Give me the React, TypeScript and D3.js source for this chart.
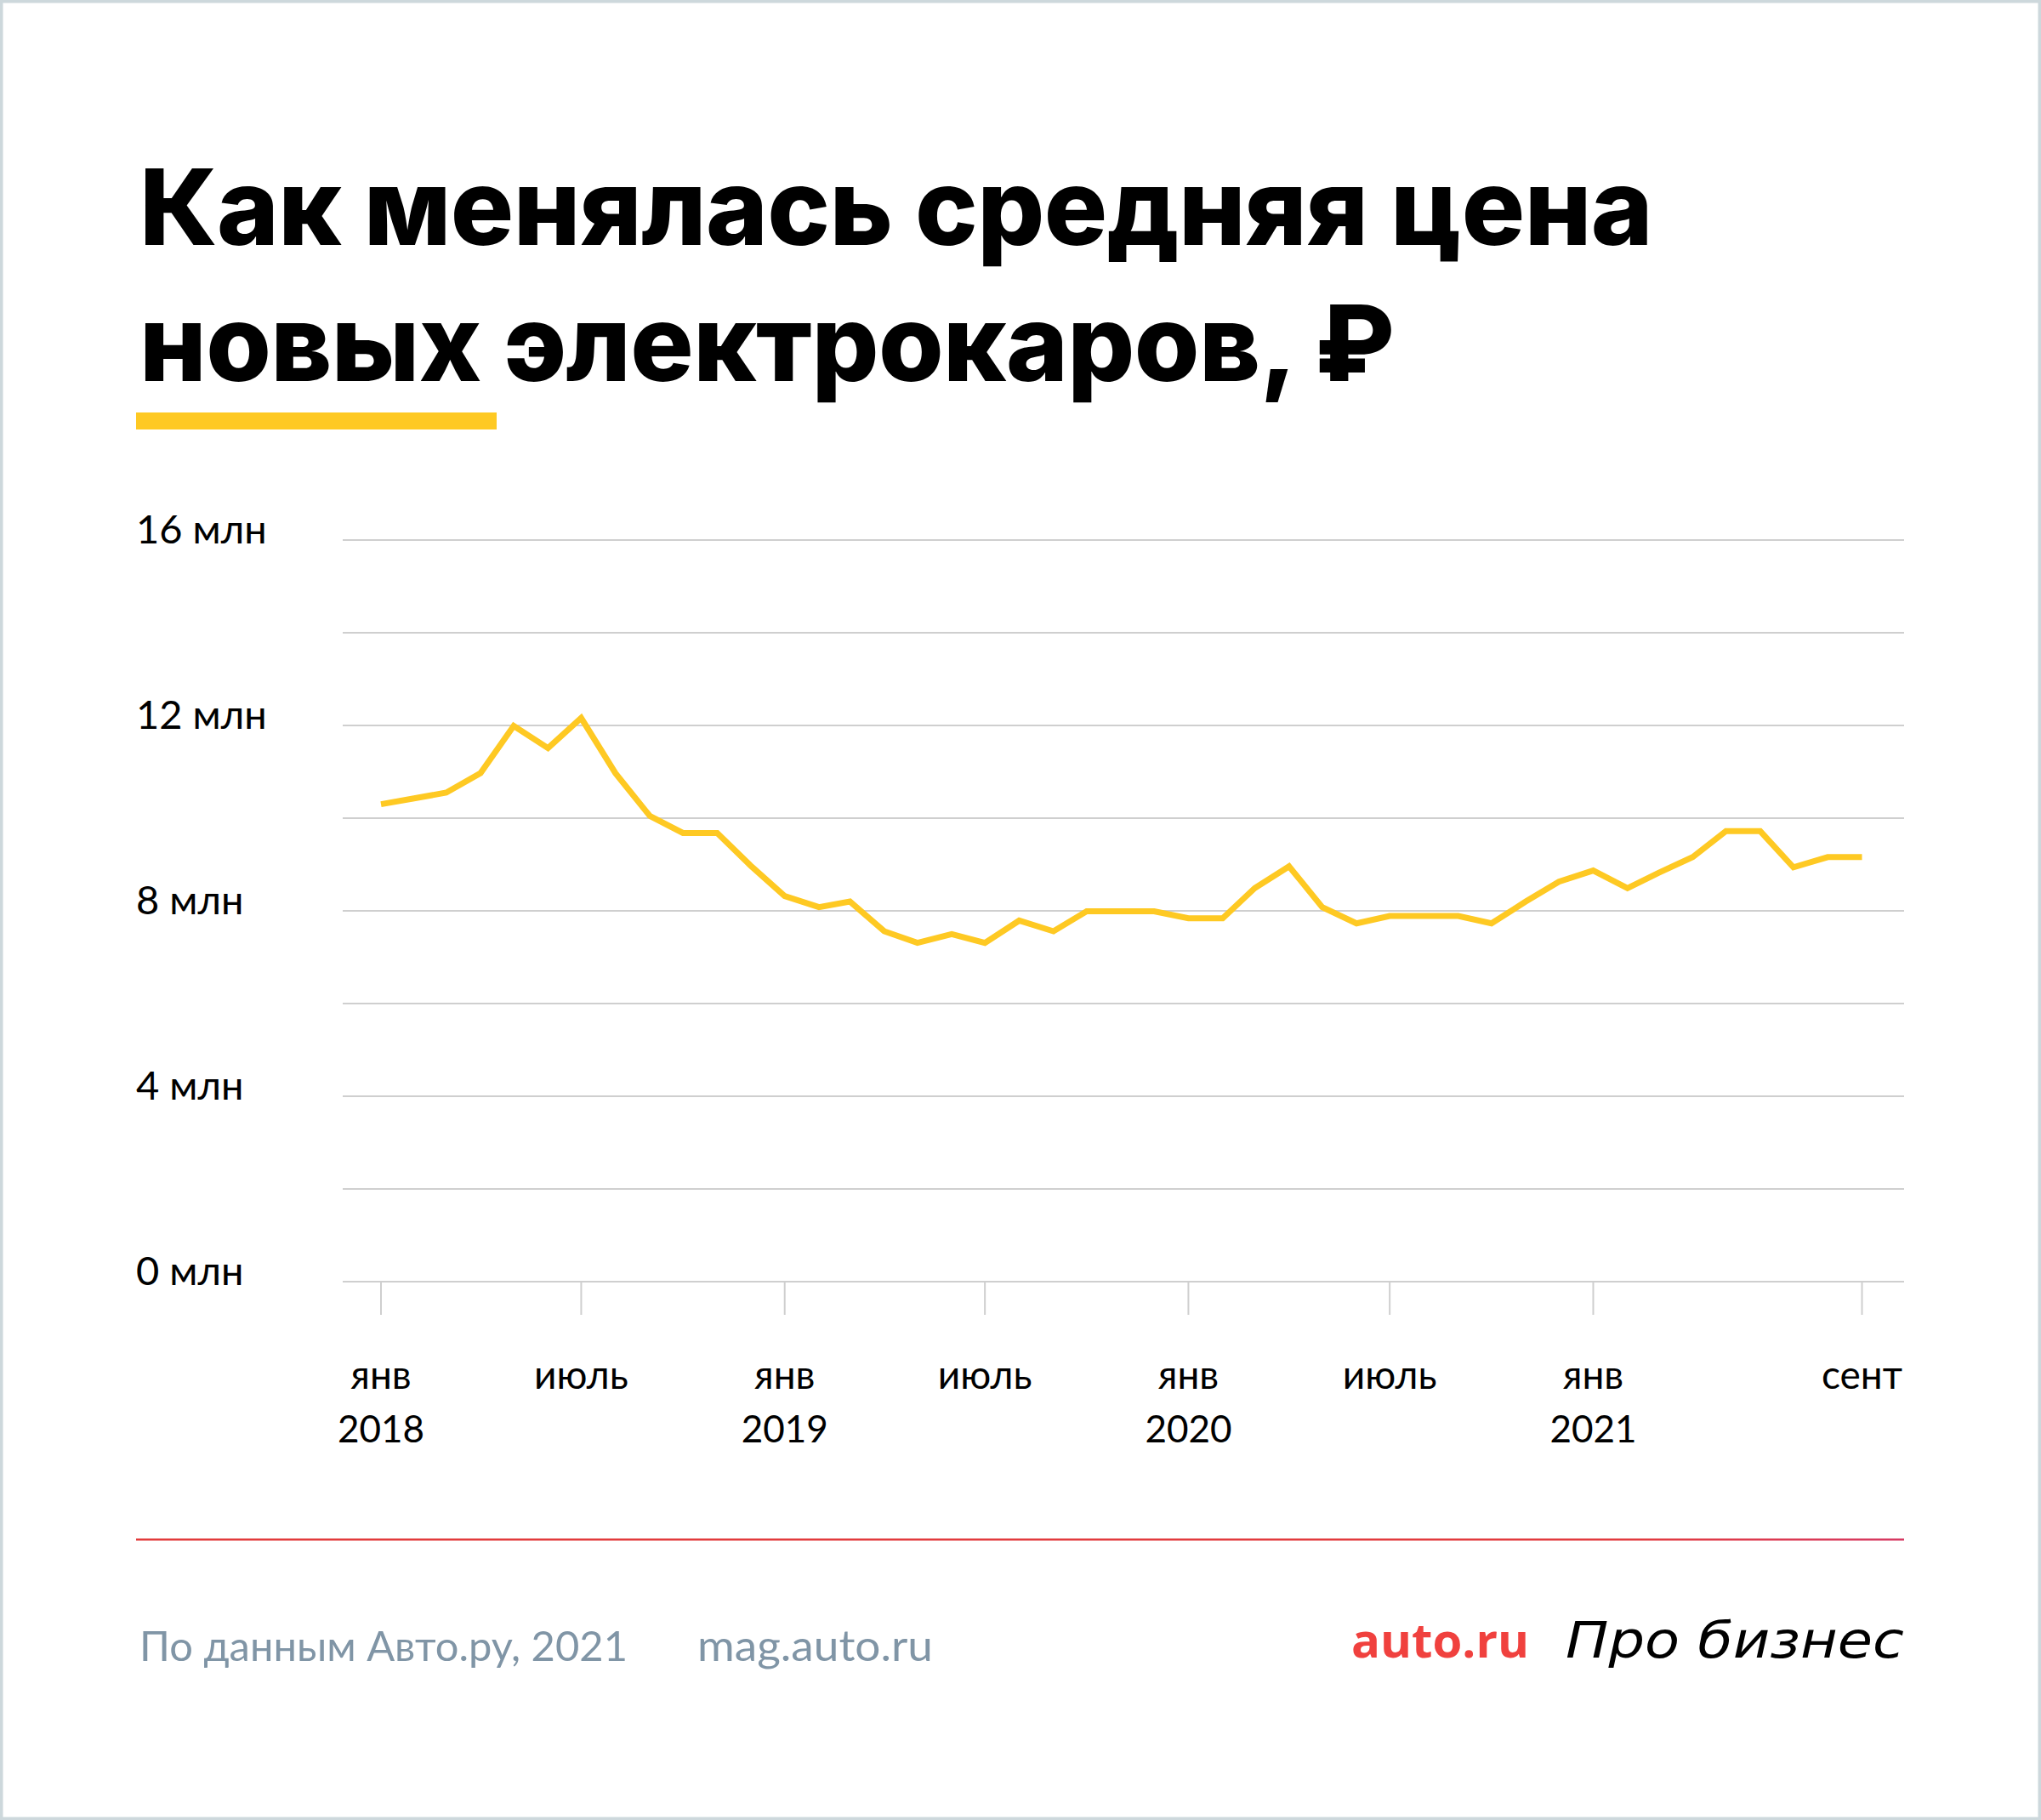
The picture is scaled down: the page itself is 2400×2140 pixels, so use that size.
import { useMemo } from "react"
import * as d3 from "d3"

// Average price of new electric cars, million roubles, monthly Jan 2018 – Sep 2021
const startMonth = new Date(2018, 0, 1)
const endMonth = new Date(2021, 8, 1)
const priceMln = [
  10.3, 10.43, 10.55, 10.97, 11.99, 11.51, 12.16, 10.97, 10.05, 9.68,
  9.68, 8.98, 8.32, 8.08, 8.2, 7.56, 7.31, 7.5, 7.31, 7.79,
  7.56, 7.99, 7.99, 7.99, 7.84, 7.84, 8.49, 8.96, 8.08, 7.73,
  7.89, 7.89, 7.89, 7.73, 8.2, 8.63, 8.87, 8.49, 8.82, 9.16,
  9.72, 9.72, 8.94, 9.16, 9.16,
]

const gridValues = [0, 2, 4, 6, 8, 10, 12, 14, 16]
const labelValues = [0, 4, 8, 12, 16]

const tickDates = [
  new Date(2018, 0, 1),
  new Date(2018, 6, 1),
  new Date(2019, 0, 1),
  new Date(2019, 6, 1),
  new Date(2020, 0, 1),
  new Date(2020, 6, 1),
  new Date(2021, 0, 1),
  new Date(2021, 8, 1),
]
const tickMonths = ["янв", "июль", "янв", "июль", "янв", "июль", "янв", "сент"]
const tickYears = ["2018", "", "2019", "", "2020", "", "2021", ""]

const titleLines = ["Как менялась средняя цена", "новых электрокаров, ₽"]

const W = 2400
const H = 2140
const axisFont = "Lato, 'Noto Sans', sans-serif"

const App = () => {
  const months = useMemo(() => d3.timeMonth.range(startMonth, d3.timeMonth.offset(endMonth, 1)), [])

  const x = d3.scaleTime().domain([startMonth, endMonth]).range([448, 2189.5])
  const y = d3.scaleLinear().domain([0, 16]).range([1507, 635])

  const line = d3
    .line<number>()
    .x((_, i) => x(months[i]))
    .y((d) => y(d))

  const plotLeft = 403
  const plotRight = 2239

  return (
    <svg
      width={W}
      height={H}
      viewBox={`0 0 ${W} ${H}`}
      style={{ position: "absolute", left: 0, top: 0, display: "block", background: "#fff" }}
    >
      <defs>
        <linearGradient id="redRule" x1="0" x2="1" y1="0" y2="0">
          <stop offset="0" stopColor="#e23b3b" />
          <stop offset="0.85" stopColor="#e23b3f" />
          <stop offset="1" stopColor="#d63a63" />
        </linearGradient>
      </defs>

      {/* frame */}
      <rect x={1.5} y={1.5} width={W - 3} height={H - 3} fill="#fff" stroke="#cdd8dc" strokeWidth={4} />

      {/* title */}
      {titleLines.map((t, i) => (
        <text
          key={t}
          x={164}
          y={288 + i * 160}
          fontFamily="Inter, 'Noto Sans', sans-serif"
          fontWeight={800}
          fontSize={124}
          letterSpacing={-0.6}
          fill="#000"
        >
          {t}
        </text>
      ))}
      <rect x={160} y={485} width={424} height={20} fill="#fec923" />

      {/* horizontal grid */}
      {gridValues.map((v) => (
        <line key={v} x1={plotLeft} x2={plotRight} y1={y(v)} y2={y(v)} stroke="#cfcfcf" strokeWidth={2} />
      ))}

      {/* y labels */}
      {labelValues.map((v) => (
        <text key={v} x={160} y={y(v) + 4} fontFamily={axisFont} fontSize={47} fill="#000">
          {`${v} млн`}
        </text>
      ))}

      {/* x ticks and labels */}
      {tickDates.map((d, i) => (
        <g key={i} transform={`translate(${x(d)},0)`}>
          <line y1={y(0)} y2={1546} stroke="#cfcfcf" strokeWidth={2} />
          <text y={1633} textAnchor="middle" fontFamily={axisFont} fontSize={46} fill="#000">
            {tickMonths[i]}
          </text>
          {tickYears[i] && (
            <text y={1696} textAnchor="middle" fontFamily={axisFont} fontSize={44} fill="#000">
              {tickYears[i]}
            </text>
          )}
        </g>
      ))}

      {/* price line */}
      <path
        d={line(priceMln) ?? ""}
        fill="none"
        stroke="#fec923"
        strokeWidth={7}
        strokeLinejoin="miter"
      />

      {/* footer */}
      <rect x={160} y={1809} width={2079} height={2.5} fill="url(#redRule)" />
      <text
        x={164}
        y={1953}
        fontFamily={axisFont}
        fontSize={49}
        fill="#8095a6"
        textLength={574}
        lengthAdjust="spacingAndGlyphs"
      >
        По данным Авто.ру, 2021
      </text>
      <text
        x={820}
        y={1953}
        fontFamily={axisFont}
        fontSize={50}
        fill="#8095a6"
        textLength={277}
        lengthAdjust="spacingAndGlyphs"
      >
        mag.auto.ru
      </text>
      <text
        x={1589}
        y={1949}
        fontFamily="'Open Sans', 'Noto Sans', sans-serif"
        fontWeight={700}
        fontSize={56}
        fill="#f0413e"
        textLength={209}
        lengthAdjust="spacingAndGlyphs"
      >
        auto.ru
      </text>
      <text
        x={1841}
        y={1949}
        fontFamily="'DejaVu Sans', sans-serif"
        fontStyle="italic"
        fontWeight={500}
        fontSize={58}
        fill="#000"
        textLength={398}
        lengthAdjust="spacingAndGlyphs"
      >
        Про бизнес
      </text>
    </svg>
  )
}

export default App
